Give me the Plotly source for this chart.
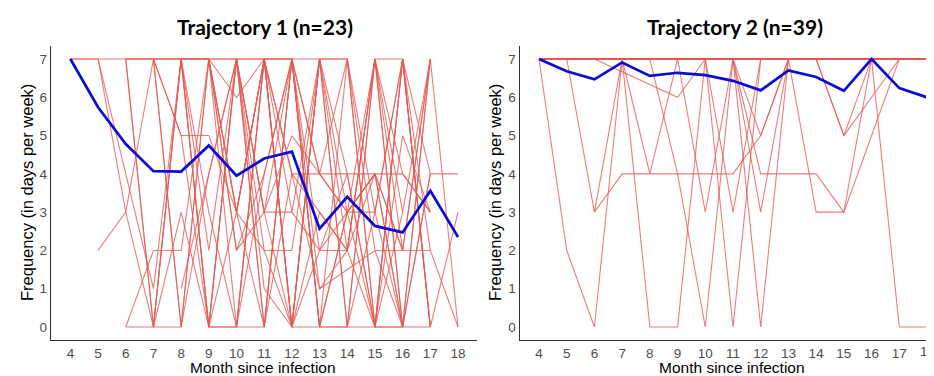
import plotly.graph_objects as go

months = list(range(4, 19))
month_labels = [str(m) for m in months]
y_ticks = [0, 1, 2, 3, 4, 5, 6, 7]

N = None
# Trajectory 1 individual trajectories (months 4..18)
traj1_individuals = [
    [7, 7, 7, 7, 7, 7, 7, 7, 7, 7, 7, 0, 7, 0, N],
    [7, 7, 4, 1, 7, 0, 7, 0, 7, 0, 7, 0, 0, 7, N],
    [N, 7, 3, 0, 7, 7, 0, 7, 0, 0, 0, 0, 0, 0, N],
    [N, 2, 3, 7, 5, 5, 3, 7, 3, 7, 2, 7, 2, 7, N],
    [N, N, 0, 0, 0, 7, 3, 0, 7, 1, N, 2, N, 2, 0],
    [N, N, 0, 2, 2, 7, 2, 4, 7, 0, 3, 4, 0, 4, 4],
    [N, N, 7, 0, 3, 0, 0, 0, 4, 3, 2, 7, 3, N, N],
    [N, N, 7, 7, 0, 4, 7, 3, 3, 2, 2, 0, 5, 3, N],
    [N, N, 7, 0, 7, 2, 7, 1, 0, 7, 4, 0, 7, 0, 3],
    [N, N, 7, 7, 7, 0, 3, 7, 7, 4, 4, 4, 4, 3, N],
    [N, N, N, 7, 7, 7, 6, 7, 0, 7, 0, 7, 0, 7, 0],
    [N, N, N, 7, 0, 7, 3, 2, 2, 7, 0, 3, 7, 4, N],
    [N, N, N, 7, 5, 0, 7, 3, 5, 4, 3, 4, 2, N, N],
    [N, N, N, 0, 7, 3, 0, 7, 0, 7, 3, 7, 0, N, N],
    [N, N, N, N, 7, 7, 2, 3, 7, 2, 3, 3, 7, 0, N],
    [N, N, N, N, 1, 4, 7, 7, 4, 1, 2, 7, 7, 0, N],
    [N, N, N, N, 7, 0, 0, 4, 7, 4, 7, 2, 0, N, N],
    [N, N, N, N, N, 7, 3, 7, 0, 2, 4, 0, 3, 7, N],
    [N, N, N, N, N, 7, 7, 3, 0, 3, 2, 4, 0, N, N],
    [N, N, N, N, N, 0, 7, 0, 7, 0, 0, 7, 4, 3, N],
    [N, N, N, N, N, N, 0, 7, 4, 4, 3, 0, 7, 2, N],
    [N, N, N, N, N, N, 7, 2, 0, 7, 7, 3, 0, 4, N],
    [N, N, N, N, N, N, 3, 7, 7, 0, 3, 4, 2, 7, N],
]
traj1_mean = [7.0, 5.74, 4.78, 4.07, 4.06, 4.74, 3.95, 4.40, 4.58, 2.57, 3.40, 2.64, 2.47, 3.56, 2.35]

# Trajectory 2 individual trajectories (months 4..18)
traj2_individuals = [
    [7, 2, 0, 7, 7, 7, 7, 7, 7, 7, 7, 7, 7, 7, 7],
    [N, 7, 3, 7, 4, 7, 7, 7, 7, 7, 7, 7, 7, 7, 7],
    [N, N, 3, 4, 4, 4, 4, 4, 5, 7, 7, 7, 7, 7, 7],
    [N, N, 7, N, N, 6, 7, 7, 7, 7, 7, 7, 7, 7, 7],
    [7, 7, 7, 7, 0, 0, 7, 7, 7, 7, 7, 7, 7, 7, 7],
    [7, 7, 7, 7, 7, 4, 0, 7, 7, 7, 7, 7, 7, 7, 7],
    [7, 7, 7, 7, 7, 7, 3, 7, 7, 7, 7, 7, 7, 7, 7],
    [7, 7, 7, 7, 7, 7, 7, 0, 7, 7, 7, 7, 7, 7, 7],
    [7, 7, 7, 7, 7, 7, 7, 3, 7, 7, 7, 7, 7, 7, 7],
    [7, 7, 7, 7, 7, 7, 7, 7, 0, 7, 7, 7, 7, 7, 7],
    [7, 7, 7, 7, 7, 7, 7, 7, 3, 7, 7, 7, 7, 7, 7],
    [7, 7, 7, 7, 7, 7, 7, 7, 4, 4, 4, 3, 7, 7, 7],
    [7, 7, 7, 7, 7, 7, 7, 7, 7, 7, 3, 3, N, 7, 7],
    [7, 7, 7, 7, 7, 7, 7, 7, 7, 7, 7, 5, 7, 7, 7],
    [7, 7, 7, 7, 7, 7, 7, 7, 7, 7, 7, 5, N, 7, 7],
    [7, 7, 7, 7, 7, 7, 7, 7, 7, 7, 7, 7, 7, 0, 0],
    [7, 7, 7, 7, 7, 7, 7, 7, 5, 7, 7, 7, 7, 7, 7],
] + [[7] * 15 for _ in range(22)]
traj2_mean = [7.0, 6.68, 6.47, 6.91, 6.56, 6.64, 6.58, 6.43, 6.18, 6.70, 6.53, 6.17, 7.0, 6.24, 6.0]

titles = ["Trajectory 1 (n=23)", "Trajectory 2 (n=39)"]
x_title = "Month since infection"
y_title = "Frequency (in days per week)"

# the page has an 8px body margin, so the figure is drawn 8px smaller and
# all target pixel positions are shifted by that offset
OFF = 8
W, H = 934 - OFF, 376 - OFF
red = "rgba(228,88,82,0.78)"
blue = "#0b0bd6"
tick_font = dict(family="Liberation Sans, Arial", size=13.5, color="#4d4d4d")

fig = go.Figure()

panels = [
    (traj1_individuals, traj1_mean, "x", "y"),
    (traj2_individuals, traj2_mean, "x2", "y2"),
]
for inds, mean, xa, ya in panels:
    for row in inds:
        fig.add_trace(go.Scatter(x=months, y=row, mode="lines", connectgaps=True,
                                 line=dict(color=red, width=1.1),
                                 xaxis=xa, yaxis=ya, showlegend=False, hoverinfo="skip"))
    fig.add_trace(go.Scatter(x=months, y=mean, mode="lines",
                             line=dict(color=blue, width=2.7),
                             xaxis=xa, yaxis=ya, showlegend=False))


def px_x(p):
    return (p - OFF) / W


def px_y(p):
    return 1 - (p - OFF) / H


top_px, bot_px = 45.6, 340.4
axis_common = dict(
    showgrid=False, zeroline=False, showline=True, linecolor="#333333", linewidth=1.4,
    ticks="", tickfont=tick_font,
)

x2_max = 18.7 - (946.4 - 934) / 27.71
fig.update_layout(
    width=W, height=H, margin=dict(l=0, r=0, t=0, b=0),
    plot_bgcolor="white", paper_bgcolor="white",
    xaxis=dict(domain=[px_x(51), px_x(477.4)], range=[3.3, 18.7],
               tickvals=months, ticktext=month_labels, anchor="y", **axis_common),
    yaxis=dict(domain=[px_y(bot_px), px_y(top_px)], range=[-0.35, 7.35],
               tickvals=y_ticks, anchor="x", **axis_common),
    xaxis2=dict(domain=[px_x(519.6), 1.0], range=[3.3, x2_max],
                tickvals=months[:-1], ticktext=month_labels[:-1], anchor="y2", **axis_common),
    yaxis2=dict(domain=[px_y(bot_px), px_y(top_px)], range=[-0.35, 7.35],
                tickvals=y_ticks, anchor="x2", **axis_common),
)

ann = []
for cx, ycx, t in [(265, 26, titles[0]), (735, 26, titles[1])]:
    ann.append(dict(x=px_x(cx), y=px_y(ycx), xref="paper", yref="paper", text="<b>%s</b>" % t,
                    showarrow=False, xanchor="center", yanchor="middle",
                    font=dict(family="Lato, Open Sans", size=21, color="black")))
for cx in [263, 732]:
    ann.append(dict(x=px_x(cx), y=px_y(367.5), xref="paper", yref="paper", text=x_title,
                    showarrow=False, xanchor="center", yanchor="middle", borderpad=0,
                    font=dict(family="Liberation Sans, Arial", size=15.5, color="black")))
for cx in [27, 495]:
    ann.append(dict(x=px_x(cx), y=px_y(193), xref="paper", yref="paper", text=y_title,
                    showarrow=False, xanchor="center", yanchor="middle", textangle=-90,
                    font=dict(family="Liberation Sans, Arial", size=16.5, color="black")))
# last tick label of the right panel, which sits at the very edge of the image
ann.append(dict(x=months[-1], xref="x2", y=px_y(351), yref="paper", text=month_labels[-1],
                showarrow=False, xanchor="center", yanchor="middle", font=tick_font))
fig.update_layout(annotations=ann)

fig.write_html("out.html")
